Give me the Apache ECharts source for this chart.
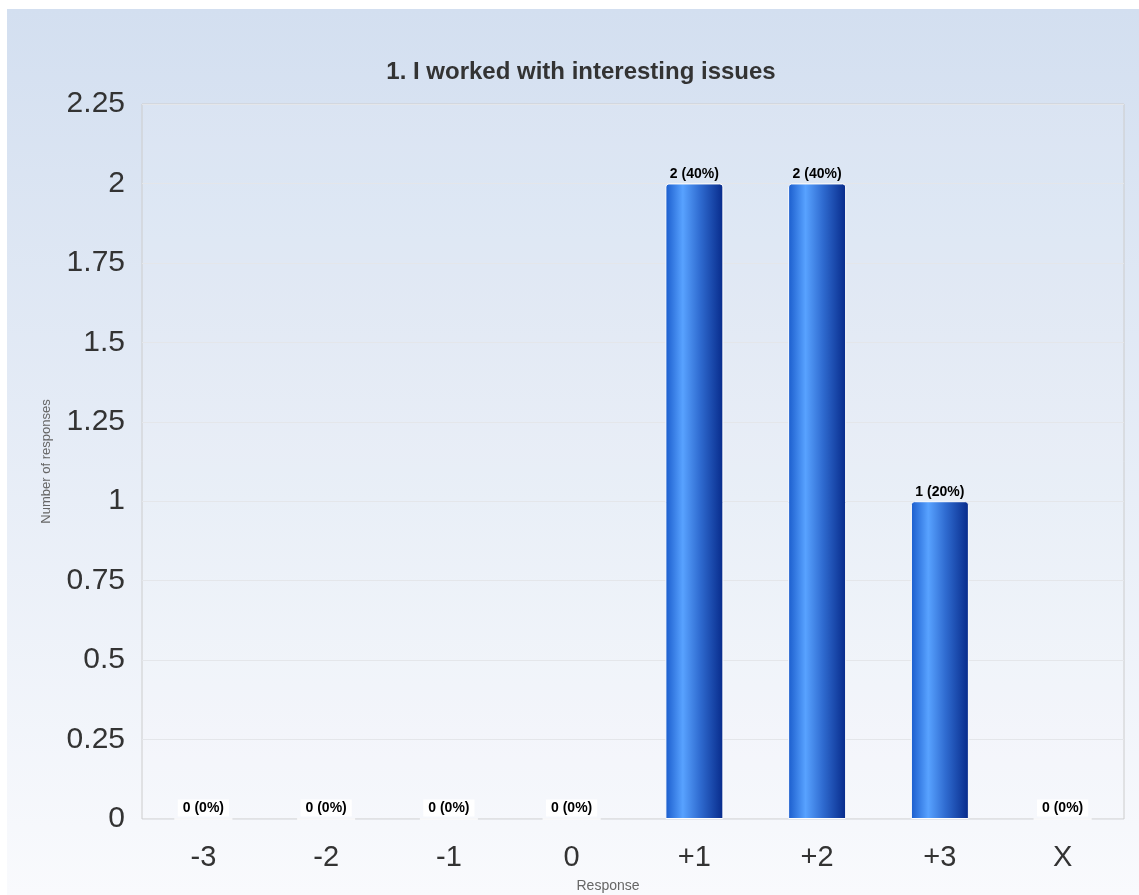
<!DOCTYPE html>
<html><head><meta charset="utf-8">
<script src="https://cdn.jsdelivr.net/npm/echarts@6/dist/echarts.min.js"></script>
<style>html,body{margin:0;padding:0;background:#fff;}#c{width:1139px;height:895px;}</style>
</head><body><div id="c"></div>
<script>
const categories = ['-3','-2','-1','0','+1','+2','+3','X'];
const counts = [0,0,0,0,2,2,1,0];
const percents = [0,0,0,0,40,40,20,0];
const yTicks = [0,0.25,0.5,0.75,1,1.25,1.5,1.75,2,2.25];
const titleText = '1. I worked with interesting issues';

const chart = echarts.init(document.getElementById('c'));
const barGrad = new echarts.graphic.LinearGradient(0,0,1,0,[
  {offset:0,color:'#1a5ccc'},{offset:0.3,color:'#58a2ff'},{offset:0.6,color:'#2f6bd0'},{offset:1,color:'#072a8a'}]);
chart.setOption({
  backgroundColor:'#ffffff',
  graphic:[{type:'rect',z:-10,silent:true,shape:{x:7,y:9,width:1132,height:886},
    style:{fill:new echarts.graphic.LinearGradient(0,0,0,1,[{offset:0,color:'#d3dff0'},{offset:1,color:'#f9fafd'}])}}],
  title:{text:titleText,left:576,top:55,textAlign:'center',
    textStyle:{fontFamily:'Liberation Sans, Arial',fontSize:24,fontWeight:'bold',color:'#333'}},
  grid:{left:142,top:104,right:15,bottom:76,outerBoundsMode:'none',containLabel:false,show:true,borderColor:'#cccccc',borderWidth:1,backgroundColor:'rgba(255,255,255,0.08)'},
  xAxis:{type:'category',data:categories,
    axisLine:{show:false},axisTick:{show:false},
    axisLabel:{fontFamily:'Liberation Sans, Arial',fontSize:29,color:'#333',margin:24},
    name:'Response',nameLocation:'middle',nameGap:60,
    nameTextStyle:{fontFamily:'Liberation Sans, Arial',fontSize:14,color:'#666',padding:[0,50,0,0]}},
  yAxis:{type:'value',min:0,max:2.25,interval:0.25,
    axisLine:{show:false},axisTick:{show:false},
    splitLine:{lineStyle:{color:'#e4e6ea',width:1}},
    axisLabel:{fontFamily:'Liberation Sans, Arial',fontSize:30,color:'#333',margin:17,
      formatter:v=>{const t=yTicks.find(x=>Math.abs(x-v)<1e-9);return t===undefined?'':String(t);}},
    name:'Number of responses',nameLocation:'middle',nameGap:89,nameRotate:90,
    nameTextStyle:{fontFamily:'Liberation Sans, Arial',fontSize:13,color:'#666'}},
  series:[{type:'bar',barWidth:58,
    data:counts.map((v,i)=>({value:v,
      label:v===0?{backgroundColor:'#ffffff',padding:[2,5,1,5]}:{}})),
    itemStyle:{color:barGrad,borderColor:'#ffffff',borderWidth:1,borderRadius:[3,3,0,0]},
    label:{show:true,position:'top',distance:2,fontFamily:'Liberation Sans, Arial',fontSize:14,fontWeight:'bold',color:'#000',
      formatter:p=>counts[p.dataIndex]+' ('+percents[p.dataIndex]+'%)'}
  }]
});
</script></body></html>
